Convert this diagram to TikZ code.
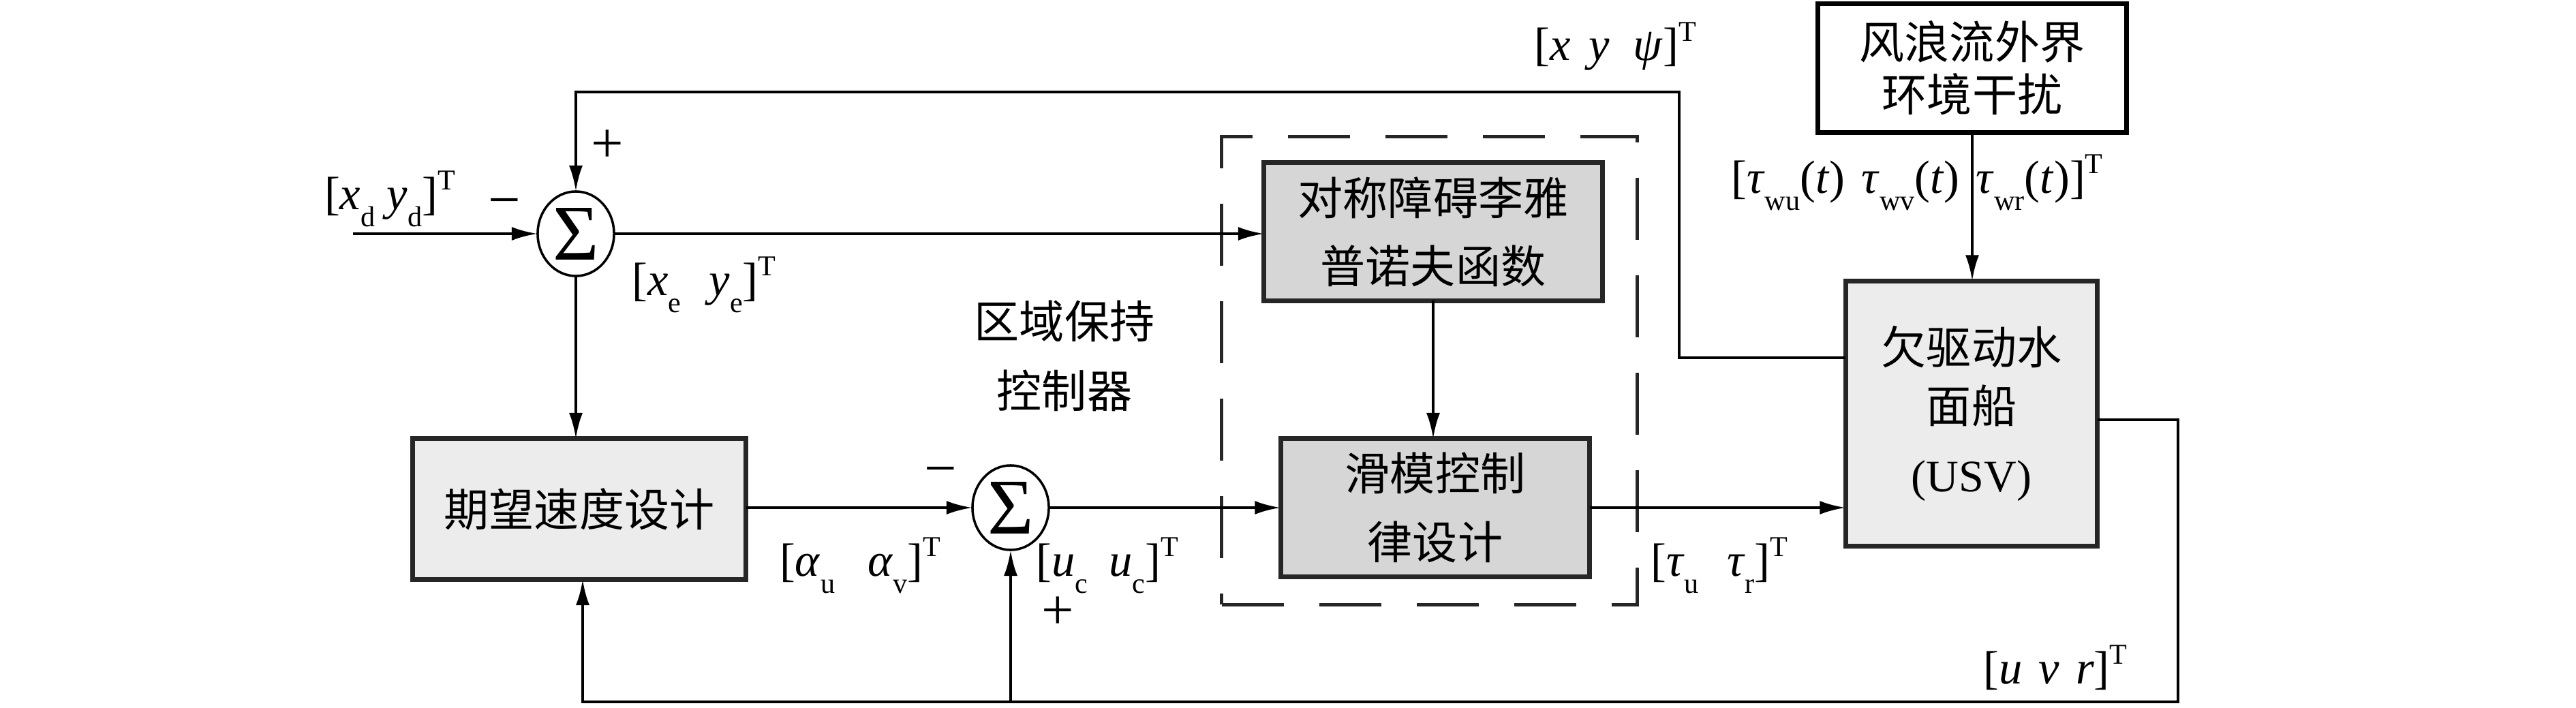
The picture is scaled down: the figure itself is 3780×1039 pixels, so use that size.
\documentclass[tikz,border=0pt]{standalone}
\usepackage{fontspec}
\setmainfont{Liberation Serif}
\newfontfamily\cjk{Noto Sans CJK SC}
\usetikzlibrary{arrows.meta,shapes.geometric}
\definecolor{boxdark}{HTML}{D6D6D6}
\definecolor{boxlight}{HTML}{ECECEC}
\definecolor{edgecol}{HTML}{262626}
\newcommand\lsb[1]{\raisebox{-0.36em}{\fontsize{12pt}{12pt}\selectfont #1}}
\newcommand\lsp[1]{\raisebox{0.42em}{\fontsize{12pt}{12pt}\selectfont #1}}
\newcommand\lit[1]{\textit{#1}}
\begin{document}
\begin{tikzpicture}[x=0.01cm,y=-0.01cm,
  every node/.style={inner sep=0pt, outer sep=0pt},
  conn/.style={line width=1.3pt, draw=black},
  arr/.style={conn, -{Latex[length=0.38cm,width=0.2cm]}},
  blk/.style={draw=edgecol, line width=2pt, align=center,
    font=\cjk\fontsize{18.8pt}{28.5pt}\selectfont},
  sumnode/.style={ellipse, draw=black, line width=1.0pt, fill=white,
    minimum width=1.12cm, minimum height=1.24cm,
    font=\fontsize{33pt}{33pt}\selectfont},
  lab/.style={font=\fontsize{19.5pt}{22pt}\selectfont},
  sgn/.style={font=\fontsize{24pt}{26pt}\selectfont},
  cjklab/.style={align=center, font=\cjk\fontsize{18.8pt}{29pt}\selectfont}
]
\useasboundingbox (0,0) rectangle (3780,1039);
\fill[white] (0,0) rectangle (3780,1039);

% dashed controller frame
\node[draw=edgecol, dash pattern=on 0.91cm off 0.52cm, line width=1.5pt,
  minimum width=6.09cm, minimum height=6.86cm] (ctrl) at (2097.5,544) {};

% blocks
\node[blk, fill=boxdark, minimum width=4.96cm, minimum height=2.02cm] (box1) at (2103,340) {对称障碍李雅\\普诺夫函数};
\node[blk, fill=boxdark, minimum width=4.53cm, minimum height=2.02cm] (box2) at (2106,745) {滑模控制\\律设计};
\node[blk, fill=boxlight, minimum width=4.89cm, minimum height=2.06cm] (desired) at (850,747) {期望速度设计};
\node[blk, fill=boxlight, minimum width=3.69cm, minimum height=3.89cm,
  font=\cjk\fontsize{18.8pt}{24.2pt}\selectfont] (usv) at (2893,607) {欠驱动水\\面船\\[0.16cm]{\rmfamily (USV)}};
\node[blk, fill=white, draw=black, minimum width=4.53cm, minimum height=1.88cm,
  font=\cjk\fontsize{18.8pt}{22pt}\selectfont] (dist) at (2894,100) {风浪流外界\\环境干扰};

% summing junctions
\node[sumnode] (sum1) at (845,343) {Σ};
\node[sumnode] (sum2) at (1483,745) {Σ};

% free ends / corners
\coordinate (in) at (518,343);
\coordinate (tA) at (2464,525);
\coordinate (tB) at (2464,135);
\coordinate (tC) at (845,135);
\coordinate (bA) at (3196,616);
\coordinate (bB) at (3196,1030);
\coordinate (bC) at (855,1030);

% connectors
\draw[arr] (in) -- (sum1.west);
\draw[arr] (sum1.east) -- (sum1.east -| box1.west);
\draw[arr] (sum1.south) -- (sum1.south |- desired.north);
\draw[arr] (sum2.west -| desired.east) -- (sum2.west);
\draw[arr] (sum2.east) -- (sum2.east -| box2.west);
\draw[arr] (box1.south) -- (box1.south |- box2.north);
\draw[arr] (box2.east) -- (box2.east -| usv.west);
\draw[arr] (dist.south) -- (dist.south |- usv.north);
\draw[arr] (tA -| usv.west) -- (tA) -- (tB) -- (tC) -- (sum1.north);
\draw[arr] (bA -| usv.east) -- (bA) -- (bB) -- (bC) -- (bC |- desired.south);
\draw[arr] (sum2.south |- bB) -- (sum2.south);

% labels
\node[lab] (lxd) at (572,292) {[\lit{x}\lsb{d}\hspace{0.25em}\lit{y}\lsb{d}]\lsp{T}};
\node[sgn] (m1) at (740,306) {−};
\node[sgn] (p1) at (891,215) {+};
\node[lab] (lxe) at (1033,418) {[\lit{x}\lsb{e}\hspace{0.6em}\lit{y}\lsb{e}]\lsp{T}};
\node[lab] (lxy) at (2370,68) {[\lit{x}\hspace{0.4em}\lit{y}\hspace{0.5em}\lit{ψ}]\lsp{T}};
\node[lab] (ltw) at (2813,268) {[\lit{τ}\lsb{wu}(\lit{t})\hspace{0.35em}\lit{τ}\lsb{wv}(\lit{t})\hspace{0.35em}\lit{τ}\lsb{wr}(\lit{t})]\lsp{T}};
\node[cjklab] (lctrl) at (1562,522) {区域保持\\控制器};
\node[sgn] (m2) at (1380,700) {−};
\node[sgn] (p2) at (1552,900) {+};
\node[lab] (lal) at (1262,830) {[\lit{α}\lsb{u}\hspace{0.7em}\lit{α}\lsb{v}]\lsp{T}};
\node[lab] (luc) at (1625,830) {[\lit{u}\lsb{c}\hspace{0.45em}\lit{u}\lsb{c}]\lsp{T}};
\node[lab] (ltau) at (2523,830) {[\lit{τ}\lsb{u}\hspace{0.6em}\lit{τ}\lsb{r}]\lsp{T}};
\node[lab] (luvr) at (3016,980) {[\lit{u}\hspace{0.35em}\lit{v}\hspace{0.35em}\lit{r}]\lsp{T}};
\end{tikzpicture}
\end{document}
